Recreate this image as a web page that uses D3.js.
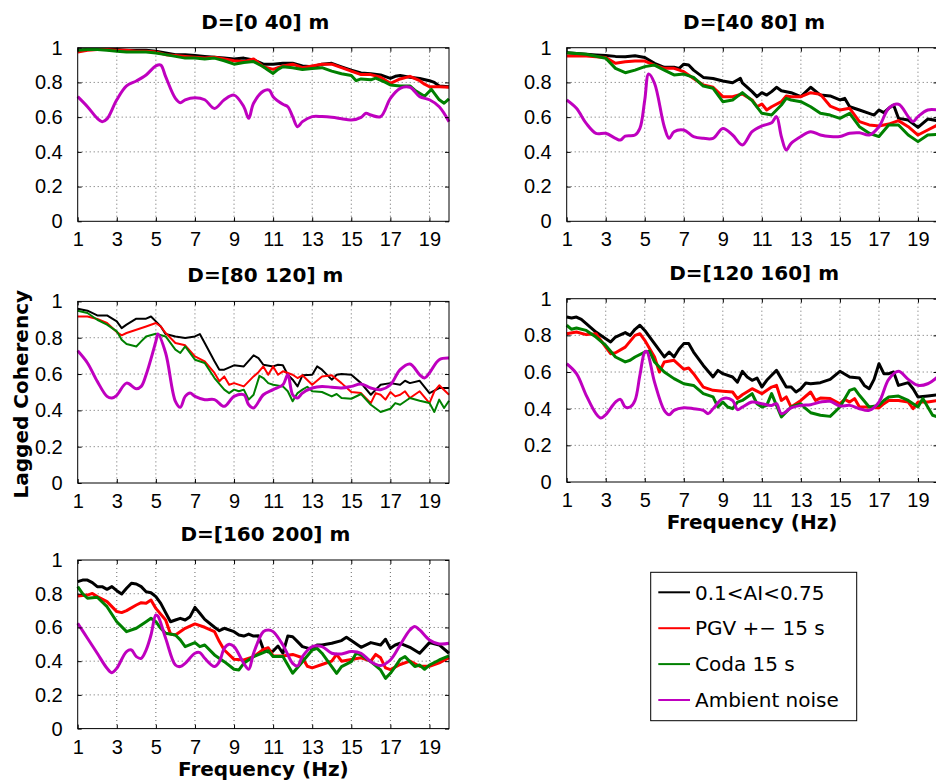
<!DOCTYPE html>
<html lang="en">
<head>
<meta charset="UTF-8">
<title>Lagged coherency</title>
<script src="https://cdn.jsdelivr.net/npm/d3@7"></script>
<style>
    body { margin: 0; background: #fff; }
    svg { display: block; }
    .tick text { font-family: "Liberation Sans", Arial, sans-serif; font-size: 20px; fill: #000; }
    .tick line { stroke: #000; }
    .title { font-family: "DejaVu Sans", sans-serif; font-size: 20px; font-weight: bold; }
    .label { font-family: "DejaVu Sans", sans-serif; font-size: 20px; font-weight: bold; }
    .legend text { font-family: "DejaVu Sans", sans-serif; font-size: 20px; }
    .grid line { stroke: #666; stroke-width: 1; stroke-dasharray: 1 3; }
</style>
</head>
<body>
<script>
    //坐标轴刻度
    const xTicks = [1, 3, 5, 7, 9, 11, 13, 15, 17, 19];
    const yTicks = [0, 0.2, 0.4, 0.6, 0.8, 1];
    const yGrid = [0.2, 0.4, 0.6, 0.8];

    const panelTitles = ["D=[0 40] m", "D=[40 80] m", "D=[80 120] m", "D=[120 160] m", "D=[160 200] m"];
    const seriesNames = ["0.1<AI<0.75", "PGV +\u2212 15 s", "Coda 15 s", "Ambient noise"];
    const seriesColors = ["#000000", "#ff0000", "#008000", "#bf00bf"];

    //D=[0 40] m  (频率 Hz, 相干值)
    const p1Black = [[1,.985],[1.5,.99],[2,.99],[2.5,.99],[3,.99],[3.5,.985],[4,.985],[4.5,.985],[5,.98],[5.5,.97],[6,.96],[6.5,.96],[7,.955],[7.5,.95],[8,.945],[8.5,.94],[9,.935],[9.5,.94],[10,.93],[10.5,.905],[11,.905],[11.5,.91],[12,.91],[12.5,.895],[13,.89],[13.5,.905],[14,.91],[14.5,.89],[15,.87],[15.5,.855],[16,.85],[16.5,.843],[17,.823],[17.25,.835],[17.5,.84],[18,.83],[18.5,.823],[19,.81],[19.25,.8],[19.5,.78],[20,.775]];
    const p1Red = [[1,.975],[1.5,.985],[2,.99],[2.5,.99],[3,.985],[3.5,.985],[4,.98],[4.5,.98],[5,.975],[5.5,.96],[6,.955],[6.5,.95],[7,.945],[7.5,.94],[8,.945],[8.5,.935],[9,.925],[9.5,.92],[10,.935],[10.5,.89],[11,.875],[11.5,.895],[12,.905],[12.5,.885],[13,.895],[13.5,.905],[14,.905],[14.5,.885],[15,.865],[15.5,.845],[16,.845],[16.5,.83],[17,.795],[17.5,.82],[18,.835],[18.5,.81],[18.75,.79],[19,.775],[19.5,.775],[20,.772]];
    const p1Green = [[1,.985],[1.5,.99],[2,.99],[2.5,.985],[3,.98],[3.5,.975],[4,.975],[4.5,.975],[5,.97],[5.5,.96],[6,.95],[6.5,.94],[7,.94],[7.5,.935],[8,.94],[8.5,.925],[9,.905],[9.5,.915],[10,.92],[10.5,.89],[10.75,.87],[11,.852],[11.25,.875],[11.5,.89],[12,.885],[12.5,.875],[13,.88],[13.5,.885],[14,.865],[14.5,.85],[15,.84],[15.25,.81],[15.5,.82],[16,.815],[16.25,.825],[16.75,.8],[17,.785],[17.5,.78],[18,.78],[18.25,.755],[18.75,.72],[19.1,.76],[19.5,.7],[19.75,.68],[20,.705]];
    const p1Magenta = [[1,.718],[1.5,.66],[2,.593],[2.25,.574],[2.5,.59],[3,.70],[3.5,.78],[4,.808],[4.5,.843],[5,.895],[5.25,.90],[5.5,.833],[6,.708],[6.25,.683],[6.5,.70],[7,.712],[7.5,.70],[8,.65],[8.5,.70],[9,.727],[9.5,.66],[9.75,.593],[10,.68],[10.5,.75],[10.8,.756],[11,.718],[11.5,.674],[11.75,.66],[12,.603],[12.25,.545],[12.5,.574],[13,.603],[13.5,.603],[14,.599],[14.5,.591],[15,.583],[15.5,.599],[15.75,.622],[16,.612],[16.5,.603],[17,.708],[17.5,.766],[18,.772],[18.5,.718],[19,.70],[19.5,.66],[20,.574]];

    //D=[40 80] m
    const p2Black = [[1,.971],[1.5,.966],[2,.962],[2.5,.958],[3,.955],[3.5,.95],[4,.948],[4.5,.954],[5,.944],[5.5,.91],[6,.887],[6.5,.887],[6.75,.88],[7,.905],[7.25,.9],[7.5,.871],[8,.829],[8.5,.823],[9,.808],[9.5,.798],[9.75,.814],[9.9,.823],[10,.798],[10.5,.747],[10.75,.718],[11,.741],[11.25,.727],[11.5,.747],[11.75,.772],[12,.752],[12.5,.741],[13,.718],[13.5,.772],[14,.727],[14.5,.722],[15,.699],[15.25,.708],[15.5,.66],[16,.641],[16.5,.622],[16.75,.612],[17,.641],[17.25,.626],[17.5,.651],[17.75,.67],[18,.593],[18.5,.583],[19,.541],[19.5,.589],[20,.58]];
    const p2Red = [[1,.952],[2,.952],[3,.944],[3.5,.91],[4,.919],[4.5,.923],[5,.923],[5.5,.9],[6,.881],[6.5,.881],[7,.862],[7.5,.823],[8,.785],[8.5,.772],[9,.718],[9.5,.718],[10,.733],[10.5,.699],[10.75,.66],[11,.676],[11.25,.641],[11.5,.66],[12,.689],[12.25,.722],[12.5,.718],[13,.718],[13.5,.741],[14,.731],[14.5,.664],[15,.641],[15.5,.651],[16,.574],[16.5,.555],[17,.549],[17.5,.56],[18,.58],[18.5,.545],[19,.497],[19.5,.526],[20,.555]];
    const p2Green = [[1,.971],[2,.962],[3,.939],[3.5,.881],[4,.856],[4.5,.871],[5,.891],[5.5,.9],[6,.871],[6.5,.843],[7,.848],[7.5,.829],[8,.779],[8.5,.766],[9,.689],[9.5,.699],[10,.741],[10.5,.695],[11,.622],[11.5,.612],[12,.67],[12.25,.708],[12.5,.699],[13,.689],[13.5,.66],[14,.622],[14.5,.612],[15,.593],[15.5,.622],[16,.545],[16.5,.507],[17,.488],[17.5,.555],[18,.555],[18.5,.497],[19,.459],[19.5,.497],[20,.5]];
    const p2Magenta = [[1,.699],[1.5,.651],[2,.564],[2.5,.507],[3,.507],[3.5,.478],[3.75,.468],[4,.491],[4.5,.497],[4.75,.535],[5,.699],[5.2,.848],[5.5,.795],[6,.545],[6.25,.478],[6.5,.516],[7,.526],[7.5,.488],[8,.478],[8.5,.478],[9,.535],[9.5,.497],[10,.44],[10.5,.516],[11,.549],[11.5,.568],[11.75,.603],[12,.488],[12.25,.411],[12.5,.449],[13,.488],[13.5,.516],[14,.497],[14.5,.488],[15,.488],[15.5,.507],[16,.51],[16.5,.497],[17,.545],[17.5,.651],[18,.674],[18.5,.603],[18.75,.574],[19,.603],[19.5,.641],[20,.641]];

    //D=[80 120] m
    const p3Black = [[1,.96],[1.5,.949],[2,.923],[2.5,.923],[3,.89],[3.25,.853],[3.5,.872],[4,.905],[4.5,.905],[4.75,.917],[5,.89],[5.25,.862],[5.5,.82],[6,.807],[6.5,.798],[7,.807],[7.25,.82],[7.5,.771],[8,.67],[8.25,.624],[8.5,.624],[9,.648],[9.5,.642],[10,.703],[10.25,.688],[10.5,.651],[11,.642],[11.25,.651],[11.5,.648],[11.75,.596],[12,.569],[12.25,.532],[12.5,.593],[13,.596],[13.25,.642],[13.5,.624],[14,.569],[14.25,.596],[14.5,.6],[15,.596],[15.5,.55],[16,.486],[16.5,.541],[17,.55],[17.5,.541],[17.75,.563],[18,.55],[18.5,.563],[19,.495],[19.5,.523],[20,.523]];
    const p3Red = [[1,.917],[1.5,.917],[2,.903],[2.5,.881],[3,.831],[3.25,.813],[3.5,.826],[4,.844],[4.5,.862],[5,.881],[5.25,.862],[5.5,.826],[6,.771],[6.5,.758],[7,.697],[7.5,.67],[8,.606],[8.25,.56],[8.5,.587],[8.75,.541],[9,.55],[9.5,.532],[10,.587],[10.25,.61],[10.5,.642],[10.75,.596],[11,.642],[11.25,.596],[11.5,.615],[12,.596],[12.25,.578],[12.5,.593],[13,.541],[13.5,.587],[14,.593],[14.5,.55],[15,.501],[15.5,.495],[16,.44],[16.25,.495],[16.5,.486],[16.75,.459],[17,.501],[17.25,.477],[17.5,.486],[17.75,.505],[18,.468],[18.5,.505],[19,.44],[19.25,.505],[19.5,.538],[20,.486]];
    const p3Green = [[1,.949],[1.5,.936],[2,.899],[2.5,.872],[3,.835],[3.25,.789],[3.5,.765],[4,.752],[4.25,.78],[4.5,.807],[5,.822],[5.5,.807],[6,.734],[6.25,.716],[6.5,.752],[7,.679],[7.5,.661],[8,.578],[8.5,.514],[8.75,.495],[9,.514],[9.25,.505],[9.5,.514],[9.75,.459],[10,.486],[10.3,.59],[10.5,.578],[10.75,.55],[11,.541],[11.5,.532],[11.75,.505],[12,.45],[12.25,.495],[12.5,.514],[12.75,.53],[13,.505],[13.5,.501],[14,.477],[14.25,.49],[14.5,.468],[15,.464],[15.5,.49],[16,.431],[16.5,.391],[17,.409],[17.25,.44],[17.5,.431],[18,.468],[18.5,.453],[19,.44],[19.25,.391],[19.5,.459],[19.75,.413],[20,.453]];
    const p3Magenta = [[1,.728],[1.5,.661],[2,.56],[2.5,.477],[2.75,.468],[3,.483],[3.5,.55],[4,.519],[4.25,.532],[4.5,.596],[5,.78],[5.1,.82],[5.5,.716],[6,.45],[6.25,.417],[6.5,.477],[6.75,.495],[7,.477],[7.5,.459],[8,.459],[8.5,.422],[9,.477],[9.5,.486],[9.75,.431],[10,.413],[10.5,.486],[11,.514],[11.5,.541],[11.75,.596],[12,.486],[12.25,.468],[12.5,.495],[13,.523],[13.5,.532],[14,.527],[14.5,.523],[15,.532],[15.5,.545],[16,.523],[16.5,.514],[17,.541],[17.5,.624],[18,.655],[18.5,.596],[18.75,.578],[19,.606],[19.5,.679],[20,.688]];

    //D=[120 160] m
    const p4Black = [[1,.9],[1.25,.895],[1.5,.9],[1.75,.887],[2,.864],[2.5,.818],[3,.782],[3.25,.764],[3.5,.791],[4,.815],[4.25,.8],[4.5,.833],[4.75,.855],[5,.827],[5.5,.755],[6,.682],[6.25,.709],[6.5,.682],[6.75,.724],[7,.755],[7.25,.755],[7.5,.709],[8,.636],[8.5,.573],[8.75,.609],[9,.591],[9.5,.573],[9.75,.545],[10,.604],[10.25,.573],[10.5,.555],[10.75,.567],[11,.518],[11.25,.555],[11.5,.582],[11.75,.609],[12,.564],[12.25,.518],[12.5,.518],[12.75,.491],[13,.509],[13.25,.54],[13.5,.536],[14,.542],[14.5,.56],[14.75,.582],[15,.604],[15.5,.573],[16,.567],[16.25,.527],[16.5,.509],[16.75,.56],[17,.645],[17.25,.591],[17.5,.591],[17.75,.6],[18,.527],[18.5,.542],[18.75,.509],[19,.464],[19.5,.469],[20,.475]];
    const p4Red = [[1,.809],[1.5,.818],[2,.804],[2.5,.809],[3,.736],[3.25,.7],[3.5,.705],[4,.736],[4.5,.8],[4.75,.809],[5,.773],[5.5,.682],[5.75,.6],[6,.655],[6.5,.664],[7,.615],[7.25,.622],[7.5,.591],[8,.518],[8.5,.5],[9,.495],[9.5,.491],[9.75,.455],[10,.476],[10.5,.509],[11,.482],[11.5,.518],[11.75,.527],[12,.445],[12.25,.464],[12.5,.409],[13,.445],[13.5,.491],[13.75,.445],[14,.458],[14.5,.455],[15,.427],[15.25,.451],[15.5,.436],[15.75,.455],[16,.409],[16.5,.409],[17,.404],[17.25,.427],[17.5,.445],[18,.445],[18.5,.436],[18.75,.4],[19,.436],[19.5,.436],[20,.445]];
    const p4Green = [[1,.855],[1.25,.833],[1.5,.84],[2,.827],[2.5,.791],[3,.745],[3.5,.682],[4,.655],[4.25,.664],[4.5,.682],[5,.709],[5.25,.713],[5.5,.655],[6,.6],[6.5,.564],[7,.536],[7.5,.527],[8,.482],[8.5,.464],[8.75,.409],[9,.436],[9.25,.409],[9.5,.4],[9.75,.436],[10,.445],[10.5,.482],[10.75,.427],[11,.409],[11.25,.418],[11.5,.482],[11.75,.418],[12,.355],[12.25,.382],[12.5,.409],[13,.427],[13.25,.4],[13.5,.378],[14,.364],[14.5,.358],[15,.409],[15.5,.5],[15.75,.509],[16,.473],[16.5,.409],[17,.418],[17.25,.445],[17.5,.464],[18,.469],[18.5,.445],[19,.409],[19.25,.455],[19.5,.409],[19.75,.364],[20,.355]];
    const p4Magenta = [[1,.645],[1.5,.591],[2,.473],[2.5,.373],[2.75,.349],[3,.367],[3.5,.436],[3.75,.451],[4,.409],[4.25,.409],[4.5,.445],[4.75,.582],[5,.709],[5.1,.713],[5.5,.545],[6,.391],[6.25,.367],[6.5,.391],[7,.405],[7.5,.4],[8,.391],[8.25,.373],[8.5,.4],[9,.455],[9.5,.445],[9.75,.395],[10,.409],[10.5,.436],[11,.427],[11.5,.418],[11.75,.427],[12,.373],[12.5,.404],[13,.418],[13.5,.422],[14,.436],[14.5,.44],[15,.415],[15.5,.418],[16,.4],[16.5,.391],[17,.436],[17.5,.56],[18,.604],[18.5,.56],[19,.527],[19.5,.536],[20,.573]];

    //D=[160 200] m
    const p5Black = [[1,.872],[1.25,.881],[1.5,.881],[1.75,.866],[2,.842],[2.25,.842],[2.5,.826],[2.75,.842],[3,.818],[3.25,.798],[3.5,.832],[3.75,.862],[4,.858],[4.25,.842],[4.5,.812],[4.75,.806],[5,.783],[5.25,.743],[5.5,.688],[5.75,.634],[6,.644],[6.25,.654],[6.5,.644],[6.75,.664],[7,.719],[7.25,.684],[7.5,.648],[8,.601],[8.25,.581],[8.5,.595],[9,.575],[9.25,.555],[9.5,.549],[9.75,.561],[10,.549],[10.25,.55],[10.5,.47],[10.75,.455],[11,.46],[11.25,.49],[11.5,.447],[11.75,.549],[12,.545],[12.25,.516],[12.5,.486],[13,.47],[13.25,.496],[13.5,.496],[14,.506],[14.5,.522],[14.75,.542],[15,.522],[15.5,.482],[16,.51],[16.5,.496],[16.75,.53],[17,.476],[17.25,.496],[17.5,.506],[18,.482],[18.5,.447],[19,.51],[19.5,.496],[20,.447]];
    const p5Red = [[1,.787],[1.5,.792],[1.75,.802],[2,.783],[2.5,.753],[3,.694],[3.25,.688],[3.5,.7],[4,.733],[4.25,.747],[4.5,.743],[4.75,.763],[5,.713],[5.5,.644],[5.75,.561],[6,.555],[6.5,.595],[7,.621],[7.5,.601],[8,.575],[8.25,.516],[8.5,.466],[9,.411],[9.5,.407],[10,.427],[10.5,.47],[10.75,.48],[11,.43],[11.5,.43],[12,.44],[12.5,.42],[12.75,.37],[13,.36],[13.5,.38],[14,.40],[14.25,.44],[14.5,.40],[15,.41],[15.5,.42],[16,.40],[16.25,.44],[16.5,.42],[16.75,.36],[17,.35],[17.5,.38],[18,.40],[18.5,.37],[19,.37],[19.5,.39],[20,.42]];
    const p5Green = [[1,.842],[1.25,.8],[1.5,.773],[2,.779],[2.5,.723],[3,.634],[3.5,.575],[4,.595],[4.5,.634],[4.75,.654],[5,.634],[5.25,.595],[5.5,.565],[6,.555],[6.25,.526],[6.5,.486],[7,.51],[7.25,.486],[7.5,.496],[8,.437],[8.5,.397],[9,.352],[9.25,.348],[9.5,.387],[10,.427],[10.5,.451],[10.75,.462],[11,.427],[11.5,.427],[12,.328],[12.5,.397],[13,.466],[13.25,.476],[13.5,.447],[14,.368],[14.25,.328],[14.5,.368],[15,.397],[15.25,.447],[15.5,.437],[16,.397],[16.5,.348],[16.75,.298],[17,.328],[17.25,.368],[17.5,.411],[17.75,.427],[18,.397],[18.25,.368],[18.5,.377],[18.75,.352],[19,.377],[19.5,.407],[20,.431]];
    const p5Magenta = [[1,.625],[1.5,.536],[2,.447],[2.5,.358],[2.75,.332],[3,.358],[3.5,.457],[3.75,.466],[4,.427],[4.25,.417],[4.5,.466],[4.75,.555],[5,.674],[5.1,.668],[5.5,.536],[6,.377],[6.25,.368],[6.5,.387],[7,.447],[7.25,.451],[7.5,.417],[8,.368],[8.25,.397],[8.5,.476],[8.75,.5],[9,.486],[9.5,.387],[9.75,.352],[10,.447],[10.5,.575],[10.75,.585],[11,.575],[11.5,.496],[12,.387],[12.25,.372],[12.5,.427],[13,.486],[13.5,.486],[14,.447],[14.5,.443],[15,.457],[15.5,.447],[16,.397],[16.5,.374],[17,.407],[17.5,.496],[18,.585],[18.25,.605],[18.5,.585],[19,.526],[19.5,.502],[20,.506]];

    const panelSeries = [
        [p1Black, p1Red, p1Green, p1Magenta],
        [p2Black, p2Red, p2Green, p2Magenta],
        [p3Black, p3Red, p3Green, p3Magenta],
        [p4Black, p4Red, p4Green, p4Magenta],
        [p5Black, p5Red, p5Green, p5Magenta]
    ];

    //每个子图的位置
    const panels = [
        {x0: 77.7, x1: 449, y0: 47.7, y1: 221.3, xlabel: false, thin: false},
        {x0: 566.7, x1: 937.5, y0: 47.7, y1: 221.3, xlabel: false, thin: false},
        {x0: 77.7, x1: 449, y0: 301.4, y1: 483, xlabel: false, thin: true},
        {x0: 566.7, x1: 937.5, y0: 298.7, y1: 482, xlabel: true, thin: false},
        {x0: 77.7, x1: 449, y0: 560, y1: 728.6, xlabel: true, thin: false}
    ];

    const width = 936, height = 783;
    const svg = d3.select("body").append("svg").attr("width", width).attr("height", height);

    panels.forEach(function (p, i) {
        const x = d3.scaleLinear().domain([1, 20]).range([p.x0, p.x1]);
        const y = d3.scaleLinear().domain([0, 1]).range([p.y1, p.y0]);
        const g = svg.append("g").attr("class", "panel");

        //网格
        const grid = g.append("g").attr("class", "grid");
        grid.selectAll("line.v").data(xTicks.filter(d => d > 1)).enter().append("line")
            .attr("x1", d => x(d)).attr("x2", d => x(d)).attr("y1", p.y0).attr("y2", p.y1);
        grid.selectAll("line.h").data(yGrid).enter().append("line")
            .attr("x1", p.x0).attr("x2", p.x1).attr("y1", d => y(d)).attr("y2", d => y(d));

        //曲线
        panelSeries[i].forEach(function (s, k) {
            const line = d3.line().x(d => x(d[0])).y(d => y(d[1]));
            if (k === 3) line.curve(d3.curveCatmullRom.alpha(0.5));
            g.append("path").datum(s)
                .attr("fill", "none")
                .attr("stroke", seriesColors[k])
                .attr("stroke-width", (p.thin && k < 3) ? 2 : 3)
                .attr("stroke-linejoin", "round")
                .attr("d", line);
        });

        //坐标轴（刻度朝内）
        g.append("g").attr("transform", "translate(0," + p.y1 + ")")
            .call(d3.axisBottom(x).tickValues(xTicks).tickSizeInner(-4).tickSizeOuter(0).tickPadding(11));
        g.append("g").attr("transform", "translate(" + p.x0 + ",0)")
            .call(d3.axisLeft(y).tickValues(yTicks).tickSizeInner(-4).tickSizeOuter(0).tickPadding(15)
                .tickFormat(d => String(d)));
        g.append("g").attr("transform", "translate(0," + p.y0 + ")")
            .call(d3.axisTop(x).tickValues(xTicks).tickSizeInner(-4).tickSizeOuter(0).tickFormat(""));
        g.append("g").attr("transform", "translate(" + p.x1 + ",0)")
            .call(d3.axisRight(y).tickValues(yTicks).tickSizeInner(-4).tickSizeOuter(0).tickFormat(""));
        g.selectAll(".domain").remove();

        //边框
        g.append("rect")
            .attr("x", p.x0).attr("y", p.y0)
            .attr("width", p.x1 - p.x0).attr("height", p.y1 - p.y0)
            .attr("fill", "none").attr("stroke", "#000").attr("stroke-width", 1);

        //标题
        g.append("text").attr("class", "title")
            .attr("x", (p.x0 + p.x1) / 2 + 2).attr("y", p.y0 - 19)
            .attr("text-anchor", "middle")
            .text(panelTitles[i]);

        if (p.xlabel) {
            g.append("text").attr("class", "label")
                .attr("x", (p.x0 + p.x1) / 2).attr("y", p.y1 + 47)
                .attr("text-anchor", "middle")
                .text("Frequency (Hz)");
        }
    });

    //纵轴标题
    svg.append("text").attr("class", "label")
        .attr("transform", "translate(28," + ((panels[2].y0 + panels[2].y1) / 2 + 2) + ") rotate(-90)")
        .attr("text-anchor", "middle")
        .text("Lagged Coherency");

    //图例
    const legend = svg.append("g").attr("class", "legend");
    legend.append("rect")
        .attr("x", 650.7).attr("y", 572.3).attr("width", 206).attr("height", 148.4)
        .attr("fill", "#fff").attr("stroke", "#000").attr("stroke-width", 1);
    const item = legend.selectAll("g.item").data(seriesNames).enter().append("g")
        .attr("class", "item")
        .attr("transform", (d, k) => "translate(658.3," + (592.3 + k * 35.9) + ")");
    item.append("line")
        .attr("x1", 0).attr("x2", 31.7).attr("y1", 0).attr("y2", 0)
        .attr("stroke", (d, k) => seriesColors[k]).attr("stroke-width", 2);
    item.append("text")
        .attr("x", 36.7).attr("y", 0).attr("dy", "0.36em")
        .text(d => d);
</script>
</body>
</html>
